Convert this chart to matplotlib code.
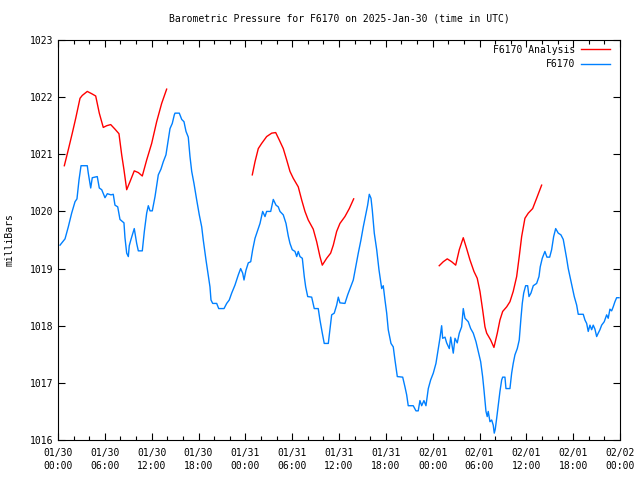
import numpy as np
import matplotlib
matplotlib.use("Agg")
import matplotlib.pyplot as plt
from matplotlib.ticker import MultipleLocator

# hours since 2025-01-30 00:00 UTC
obs_hours = [0.26, 0.90, 1.32, 1.75, 2.18, 2.43, 2.69, 2.95, 3.75, 3.88, 4.19, 4.39, 5.03, 5.29,
             5.60, 6.02, 6.32, 6.79, 7.08, 7.30, 7.65, 7.94, 8.45, 8.58, 8.80, 9.01, 9.13, 9.35,
             9.77, 10.08, 10.29, 10.80, 11.06, 11.36, 11.57, 11.79, 12.08, 12.43, 12.85, 13.19,
             13.49, 13.83, 14.35, 14.64, 14.90, 14.99, 15.54, 15.85, 16.14, 16.40, 16.69, 16.91,
             17.13, 17.42, 17.77, 18.10, 18.41, 18.61, 18.96, 19.25, 19.47, 19.60, 19.82, 20.33,
             20.59, 21.27, 21.61, 21.94, 22.25, 22.67, 23.10, 23.40, 23.66, 23.83, 24.08, 24.38,
             24.69, 24.94, 25.24, 25.53, 25.88, 26.22, 26.52, 26.73, 27.25, 27.58, 27.93, 28.22,
             28.44, 28.86, 29.21, 29.50, 29.72, 30.01, 30.36, 30.58, 30.78, 31.00, 31.30, 31.55,
             31.73, 31.99, 32.50, 32.83, 33.34, 33.56, 33.86, 34.11, 34.63, 34.84, 35.06, 35.39,
             35.70, 35.91, 36.12, 36.76, 37.11, 37.41, 37.83, 38.14, 38.47, 38.81, 39.11, 39.42,
             39.67, 39.88, 40.10, 40.26, 40.52, 40.83, 41.12, 41.47, 41.67, 41.89, 42.11, 42.31,
             42.66, 42.95, 43.17, 43.47, 44.16, 44.45, 44.67, 44.87, 45.51, 45.86, 46.15, 46.37,
             46.59, 46.88, 47.14, 47.44, 47.74, 48.08, 48.42, 48.72, 48.93, 49.15, 49.28, 49.58,
             49.79, 50.13, 50.31, 50.64, 50.86, 51.15, 51.41, 51.71, 51.92, 52.14, 52.56, 52.87,
             53.20, 53.55, 53.84, 54.15, 54.40, 54.57, 54.83, 54.99, 55.12, 55.34, 55.56, 55.76,
             55.89, 56.02, 56.20, 56.40, 56.62, 56.84, 56.97, 57.26, 57.39, 57.90, 58.12, 58.32,
             58.54, 58.84, 59.09, 59.31, 59.48, 59.66, 59.91, 60.17, 60.34, 60.59, 60.89, 61.32,
             61.62, 61.78, 62.04, 62.38, 62.64, 62.99, 63.24, 63.50, 63.76, 64.09, 64.43, 64.73,
             65.16, 65.37, 65.59, 65.88, 66.14, 66.45, 66.65, 67.29, 67.51, 67.73, 67.93, 68.15,
             68.37, 68.57, 68.79, 69.01, 69.21, 69.43, 69.65, 69.98, 70.29, 70.49, 70.71, 70.93,
             71.13, 71.35, 71.57, 71.87]
obs_mb = [1019.41, 1019.52, 1019.73, 1019.97, 1020.17, 1020.22, 1020.55, 1020.80, 1020.80, 1020.67,
          1020.41, 1020.59, 1020.61, 1020.41, 1020.38, 1020.24, 1020.31, 1020.29, 1020.30, 1020.11,
          1020.08, 1019.86, 1019.80, 1019.54, 1019.27, 1019.21, 1019.40, 1019.51, 1019.70, 1019.44,
          1019.31, 1019.31, 1019.65, 1019.97, 1020.10, 1020.01, 1020.01, 1020.26, 1020.64, 1020.74,
          1020.87, 1020.99, 1021.45, 1021.54, 1021.69, 1021.72, 1021.72, 1021.61, 1021.57, 1021.40,
          1021.30, 1020.96, 1020.70, 1020.49, 1020.20, 1019.94, 1019.73, 1019.50, 1019.15, 1018.89,
          1018.68, 1018.45, 1018.39, 1018.39, 1018.30, 1018.30, 1018.39, 1018.45, 1018.57, 1018.71,
          1018.89, 1019.00, 1018.92, 1018.80, 1018.97, 1019.10, 1019.12, 1019.33, 1019.53, 1019.65,
          1019.79, 1020.00, 1019.91, 1020.00, 1020.00, 1020.21, 1020.11, 1020.08, 1020.00, 1019.94,
          1019.79, 1019.57, 1019.44, 1019.33, 1019.30, 1019.21, 1019.30, 1019.21, 1019.18, 1018.86,
          1018.68, 1018.51, 1018.50, 1018.30, 1018.30, 1018.10, 1017.87, 1017.69, 1017.69, 1017.93,
          1018.19, 1018.22, 1018.36, 1018.50, 1018.40, 1018.39, 1018.54, 1018.65, 1018.80, 1019.03,
          1019.27, 1019.50, 1019.73, 1019.94, 1020.11, 1020.30, 1020.23, 1020.03, 1019.62, 1019.33,
          1018.98, 1018.65, 1018.70, 1018.45, 1018.22, 1017.93, 1017.69, 1017.63, 1017.40, 1017.11,
          1017.10, 1016.93, 1016.79, 1016.60, 1016.60, 1016.51, 1016.51, 1016.69, 1016.60, 1016.69,
          1016.60, 1016.90, 1017.05, 1017.17, 1017.34, 1017.60, 1017.78, 1018.00, 1017.78, 1017.80,
          1017.70, 1017.60, 1017.80, 1017.52, 1017.78, 1017.70, 1017.87, 1017.98, 1018.30, 1018.13,
          1018.07, 1017.95, 1017.87, 1017.72, 1017.55, 1017.37, 1017.11, 1016.88, 1016.50, 1016.41,
          1016.50, 1016.32, 1016.35, 1016.26, 1016.12, 1016.19, 1016.38, 1016.61, 1016.85, 1017.05,
          1017.10, 1017.10, 1016.90, 1016.90, 1017.17, 1017.34, 1017.49, 1017.60, 1017.75, 1018.13,
          1018.39, 1018.57, 1018.70, 1018.70, 1018.51, 1018.57, 1018.70, 1018.74, 1018.86, 1019.03,
          1019.18, 1019.30, 1019.20, 1019.20, 1019.33, 1019.56, 1019.70, 1019.62, 1019.59, 1019.51,
          1019.18, 1019.00, 1018.86, 1018.68, 1018.51, 1018.36, 1018.20, 1018.20, 1018.10, 1018.04,
          1017.90, 1018.01, 1017.93, 1018.01, 1017.94, 1017.81, 1017.87, 1017.93, 1018.01, 1018.07,
          1018.19, 1018.13, 1018.29, 1018.26, 1018.33, 1018.42, 1018.49, 1018.49]

# analysis comes in three separate runs
ana1_hours = [0.81, 1.32, 1.83, 2.27, 2.82, 3.11, 3.75, 4.32, 4.83, 5.29, 5.80, 6.24, 6.75, 7.30,
              7.81, 8.16, 8.45, 8.80, 9.22, 9.77, 10.29, 10.80, 11.36, 12.00, 12.64, 13.28, 13.92]
ana1_mb = [1020.80, 1021.08, 1021.37, 1021.63, 1021.98, 1022.03, 1022.10, 1022.06, 1022.02, 1021.72,
           1021.47, 1021.50, 1021.52, 1021.44, 1021.36, 1020.99, 1020.73, 1020.38, 1020.52, 1020.71,
           1020.68, 1020.62, 1020.90, 1021.19, 1021.57, 1021.89, 1022.14]
ana2_hours = [24.89, 25.24, 25.66, 26.09, 26.73, 27.38, 27.89, 28.35, 28.86, 29.30, 29.72, 30.14,
              30.78, 31.22, 31.64, 32.06, 32.70, 33.14, 33.56, 33.86, 34.42, 34.93, 35.27, 35.70,
              36.12, 36.76, 37.32, 37.88]
ana2_mb = [1020.64, 1020.87, 1021.10, 1021.19, 1021.31, 1021.37, 1021.38, 1021.25, 1021.10, 1020.90,
           1020.70, 1020.58, 1020.43, 1020.20, 1020.00, 1019.85, 1019.69, 1019.47, 1019.21, 1019.06,
           1019.18, 1019.27, 1019.41, 1019.65, 1019.79, 1019.91, 1020.05, 1020.22]
ana3_hours = [48.84, 49.36, 49.87, 50.43, 50.95, 51.41, 51.92, 52.35, 52.78, 53.29, 53.71, 54.06,
              54.40, 54.70, 54.92, 55.43, 55.85, 56.28, 56.62, 56.97, 57.48, 57.90, 58.32, 58.76,
              59.09, 59.40, 59.82, 60.25, 60.81, 61.32, 61.96]
ana3_mb = [1019.05, 1019.12, 1019.17, 1019.12, 1019.06, 1019.33, 1019.54, 1019.35, 1019.15, 1018.95,
           1018.83, 1018.60, 1018.28, 1017.98, 1017.87, 1017.75, 1017.62, 1017.87, 1018.10, 1018.25,
           1018.33, 1018.42, 1018.60, 1018.86, 1019.21, 1019.56, 1019.88, 1019.97, 1020.05, 1020.23,
           1020.46]

tick_labels = ["01/30\n00:00", "01/30\n06:00", "01/30\n12:00", "01/30\n18:00",
               "01/31\n00:00", "01/31\n06:00", "01/31\n12:00", "01/31\n18:00",
               "02/01\n00:00", "02/01\n06:00", "02/01\n12:00", "02/01\n18:00",
               "02/02\n00:00"]

plt.rcParams['font.family'] = 'DejaVu Sans Mono'
plt.rcParams['font.size'] = 7

fig = plt.figure(figsize=(6.4, 4.8), dpi=100)
ax = fig.add_axes([58 / 640, 40 / 480, 562 / 640, 400 / 480])

# join the analysis runs with gaps
ana_hours = ana1_hours + [np.nan] + ana2_hours + [np.nan] + ana3_hours
ana_mb = ana1_mb + [np.nan] + ana2_mb + [np.nan] + ana3_mb

ax.plot(ana_hours, ana_mb, color='#ff0000', lw=1, label='F6170 Analysis')
ax.plot(obs_hours, obs_mb, color='#0080ff', lw=1, label='F6170')

ax.set_xlim(0, 72)
ax.set_ylim(1016, 1023)
ax.set_xticks(np.arange(0, 73, 6))
ax.set_xticklabels(tick_labels, linespacing=1.35)
ax.xaxis.set_minor_locator(MultipleLocator(2))
ax.set_yticks(np.arange(1016, 1024, 1))
ax.tick_params(which='both', direction='in', top=True, right=True, width=0.8)
ax.tick_params(which='major', length=5)
ax.tick_params(axis='x', which='major', pad=6)
ax.tick_params(which='minor', length=3)

ax.set_ylabel('milliBars')
ax.yaxis.set_label_coords(-0.078, 0.5)
ax.set_title('Barometric Pressure for F6170 on 2025-Jan-30 (time in UTC)', fontsize=7, pad=13)

ax.legend(loc='upper right', bbox_to_anchor=(1.0, 1.0125), frameon=False, markerfirst=False,
          handlelength=3, borderaxespad=0.6, labelspacing=0.45, handletextpad=0.6)

fig.savefig('out.png', dpi=100)
